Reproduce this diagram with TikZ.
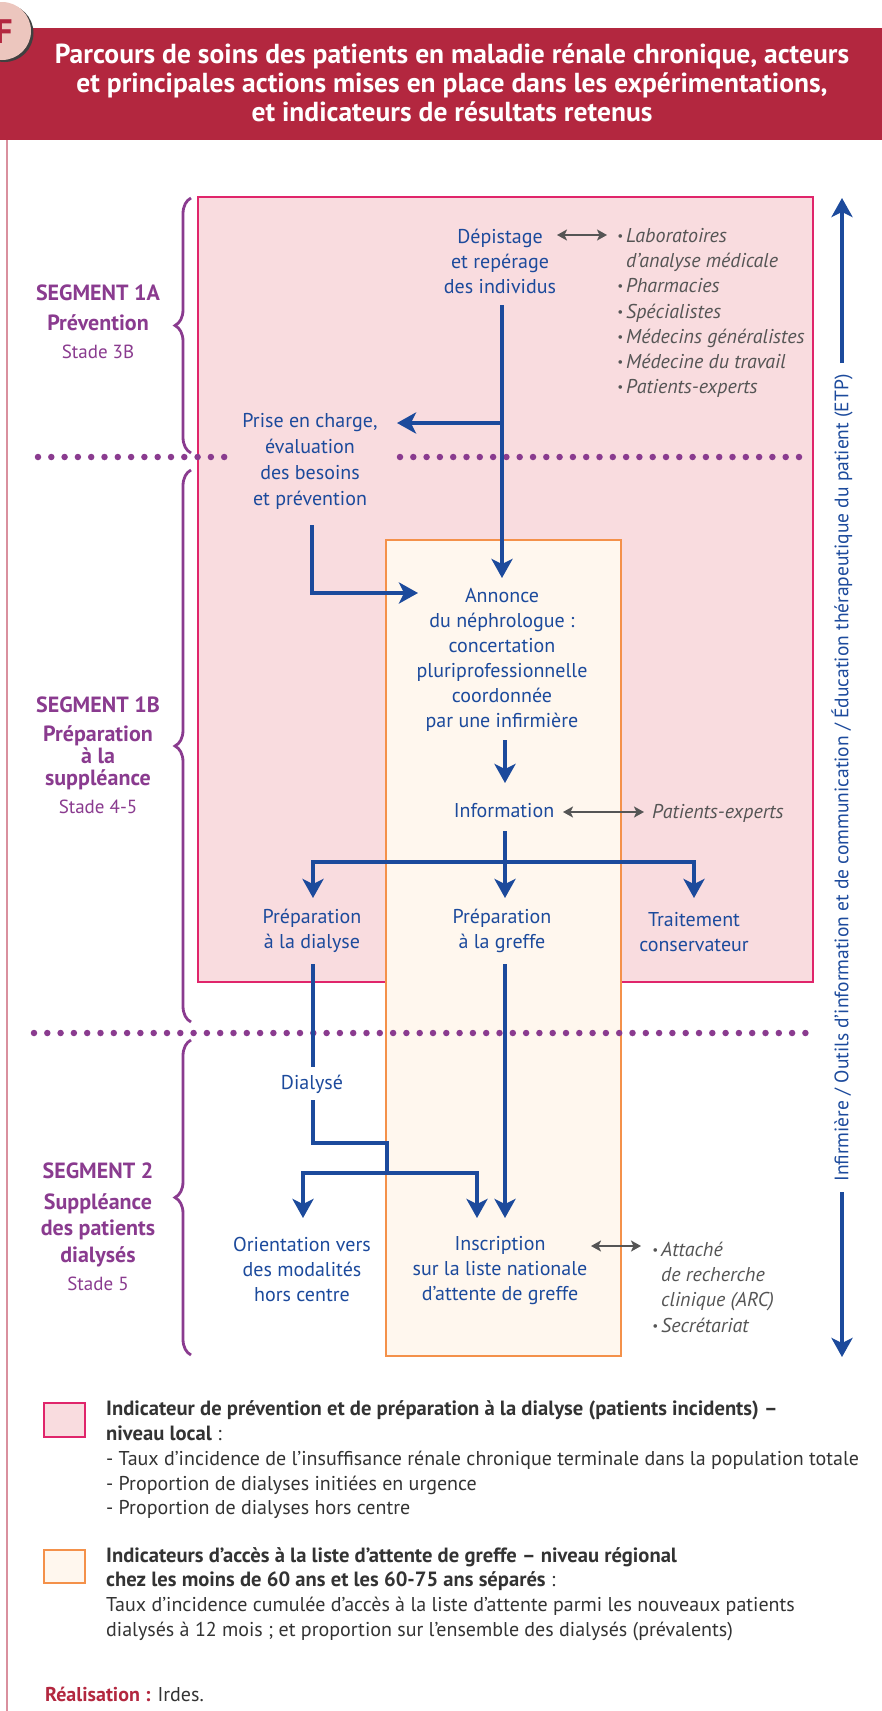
\documentclass[tikz,border=0pt]{standalone}
\usepackage{fontspec}
\setmainfont{PT Sans}
\usetikzlibrary{arrows.meta,decorations.pathreplacing,calc}
\definecolor{titlered}{HTML}{B3273F}
\definecolor{pinkfill}{HTML}{F9DCDF}
\definecolor{pinkline}{HTML}{E0256B}
\definecolor{orfill}{HTML}{FFF7EE}
\definecolor{orline}{HTML}{F4914A}
\definecolor{fblue}{HTML}{1C4A9C}
\definecolor{purp}{HTML}{8A3B8F}
\definecolor{grayt}{HTML}{555555}
\definecolor{leftline}{HTML}{D9909E}
\definecolor{circfill}{HTML}{ECC6BE}
\definecolor{legtext}{HTML}{333333}
\newcommand\bul{\makebox[9pt][l]{\fontsize{13}{13}\selectfont\raisebox{2pt}{•}}}
\newcommand\legb[1]{{\fontsize{20.6}{24.8}\selectfont\bfseries #1}}
\tikzset{
 flow/.style={draw=fblue, line width=4pt, -{Stealth[length=19pt,width=21pt,inset=5pt]}},
 plain/.style={draw=fblue, line width=4pt},
 dual/.style={draw=grayt, line width=2.6pt, {Stealth[length=10pt,width=11pt,inset=2.5pt]}-{Stealth[length=10pt,width=11pt,inset=2.5pt]}},
 dotline/.style={draw=purp, line width=6.5pt, line cap=round, dash pattern=on 0pt off 13.3pt},
 bracestyle/.style={draw=purp, line width=2.8pt, decorate, decoration={brace, amplitude=16pt}},
 txt/.style={text=fblue, align=center, font=\fontsize{20}{25}\selectfont, inner sep=0pt},
 ital/.style={text=grayt, align=left, font=\fontsize{20}{25.3}\selectfont\itshape, inner sep=0pt},
 seg/.style={text=purp, align=center, inner sep=0pt},
 leg/.style={text=legtext, align=left, inner sep=0pt, font=\fontsize{20}{24.8}\selectfont},
}
\begin{document}
\begin{tikzpicture}[x=1pt,y=-1pt]
\useasboundingbox (0,0) rectangle (882,1711);
\fill[white] (0,0) rectangle (882,1711);
% left frame line
\draw[leftline, line width=1.2pt] (7,40) -- (7,1711);
% title bar
\fill[titlered] (0,28) rectangle (882,140);
\node[text=white, font=\fontsize{27.5}{29}\selectfont\bfseries, align=center, inner sep=0pt] (title) at (452,83)
 {Parcours de soins des patients en maladie rénale chronique, acteurs\\
  et principales actions mises en place dans les expérimentations,\\
  et indicateurs de résultats retenus};
% F circle
\fill[black!75] (4.5,33) circle (29);
\fill[circfill] (2,31) circle (29);
\node[text=titlered, font=\fontsize{34}{34}\selectfont\bfseries, inner sep=0pt] (F) at (4,32) {F};

% boxes
\draw[pinkline, fill=pinkfill, line width=2.2pt] (198,197) rectangle (813,982);
\draw[orline, fill=orfill, line width=2.2pt] (386,540) rectangle (621,1356);

% dotted separators
\draw[dotline] (38,457) -- (228,457);
\draw[dotline] (400,457) -- (808,457);
\draw[dotline] (34,1033) -- (813,1033);

% braces
\draw[bracestyle] (191,453) -- (191,198);
\draw[bracestyle] (191,1022) -- (191,470);
\draw[bracestyle] (191,1355) -- (191,1040);

% segment labels
\node[seg, font=\fontsize{22}{30}\selectfont\bfseries] (s1a) at (98,322) {SEGMENT 1A\\ Prévention\\[-2pt]{\fontsize{19}{28}\selectfont\mdseries Stade 3B}};
\node[seg, font=\fontsize{22}{22}\selectfont\bfseries] (s1b) at (98,755) {SEGMENT 1B\\[7pt] Préparation\\ à la\\ suppléance\\[6pt]{\fontsize{19}{22}\selectfont\mdseries Stade 4-5}};
\node[seg, font=\fontsize{22}{26.5}\selectfont\bfseries] (s2) at (98,1227) {SEGMENT 2\\[4pt] Suppléance\\ des patients\\ dialysés\\[2pt]{\fontsize{19}{26}\selectfont\mdseries Stade 5}};

% main nodes
\node[txt] (dep) at (500,261) {Dépistage\\ et repérage\\ des individus};
\node[txt, font=\fontsize{20}{26}\selectfont] (prise) at (310,461) {Prise en charge,\\ évaluation\\ des besoins\\ et prévention};
\node[txt] (ann) at (502,660) {Annonce\\ du néphrologue :\\ concertation\\ pluriprofessionnelle\\ coordonnée\\ par une infirmière};
\node[txt] (info) at (504,811) {Information};
\node[txt] (pdia) at (312,931) {Préparation\\ à la dialyse};
\node[txt] (pgre) at (502,931) {Préparation\\ à la greffe};
\node[txt] (trait) at (694,932) {Traitement\\ conservateur};
\node[txt] (dialyse) at (312,1084) {Dialysé};
\node[txt] (orient) at (302,1269) {Orientation vers\\ des modalités\\ hors centre};
\node[txt] (inscr) at (500,1271) {Inscription\\ sur la liste nationale\\ d’attente de greffe};

% actor lists
\node[ital, anchor=west] (actors) at (617,313) {\bul Laboratoires\\ \hphantom{\bul}d’analyse médicale\\ \bul Pharmacies\\ \bul Spécialistes\\ \bul Médecins généralistes\\ \bul Médecine du travail\\ \bul Patients-experts};
\node[ital, anchor=west] (pe) at (652,813) {Patients-experts};
\node[ital, anchor=west] (arc) at (652,1287) {\bul Attaché\\ \hphantom{\bul}de recherche\\ \hphantom{\bul}clinique (ARC)\\ \bul Secrétariat};

% connector coordinates
\coordinate (d1) at (502,305);
\coordinate (a1) at (502,578);
\coordinate (j1) at (502,423);
\coordinate (p1) at (397,423);
\coordinate (q1) at (312,525);
\coordinate (q2) at (418,593);
\coordinate (n1) at (505,740);
\coordinate (n2) at (505,783);
\coordinate (i1) at (505,831);
\coordinate (i2) at (505,898);
\coordinate (h1) at (505,862);
\coordinate (l1) at (313,898);
\coordinate (r1) at (694,898);
\coordinate (x1) at (313,964);
\coordinate (x2) at (313,1067);
\coordinate (x3) at (313,1100);
\coordinate (x4) at (387,1143);
\coordinate (x5) at (387,1173);
\coordinate (o1) at (303,1218);
\coordinate (o2) at (477,1218);
\coordinate (g1) at (505,964);
\coordinate (g2) at (505,1218);

% blue connectors
\draw[flow] (d1) -- (a1);
\draw[flow] (j1) -- (p1);
\draw[flow] (q1) |- (q2);
\draw[flow] (n1) -- (n2);
\draw[flow] (i1) -- (i2);
\draw[flow] (h1) -| (l1);
\draw[flow] (h1) -| (r1);
\draw[plain] (x1) -- (x2);
\draw[plain] (x3) |- (x4) -- (x5);
\draw[flow] (x5) -| (o1);
\draw[flow] (x5) -| (o2);
\draw[flow] (g1) -- (g2);

% gray double arrows
\coordinate (ga1) at (557,235); \coordinate (ga2) at (607,235);
\coordinate (gb1) at (563,812); \coordinate (gb2) at (644,812);
\coordinate (gc1) at (591,1246); \coordinate (gc2) at (641,1246);
\draw[dual] (ga1) -- (ga2);
\draw[dual] (gb1) -- (gb2);
\draw[dual] (gc1) -- (gc2);

% ETP side arrow
\node[txt, rotate=90, font=\fontsize{19.5}{20}\selectfont] (etp) at (842,778) {Infirmière / Outils d’information et de communication / Éducation thérapeutique du patient (ETP)};
\coordinate (e1) at (842,363); \coordinate (e2) at (842,198);
\coordinate (e3) at (842,1192); \coordinate (e4) at (842,1357);
\draw[flow, line width=3.4pt] (e1) -- (e2);
\draw[flow, line width=3.4pt] (e3) -- (e4);

% legend
\draw[pinkline, fill=pinkfill, line width=2.4pt] (44,1403) rectangle (85,1437);
\draw[orline, fill=orfill, line width=2.4pt] (44,1550) rectangle (85,1583);
\node[leg, anchor=west] (leg1) at (106,1460) {\legb{Indicateur de prévention et de préparation à la dialyse (patients incidents) –}\\ \legb{niveau local} :\\ - Taux d’incidence de l’insuffisance rénale chronique terminale dans la population totale\\ - Proportion de dialyses initiées en urgence\\ - Proportion de dialyses hors centre};
\node[leg, anchor=west] (leg2) at (106,1594) {\legb{Indicateurs d’accès à la liste d’attente de greffe – niveau régional}\\ \legb{chez les moins de 60 ans et les 60-75 ans séparés} :\\ Taux d’incidence cumulée d’accès à la liste d’attente parmi les nouveaux patients\\ dialysés à 12 mois ; et proportion sur l’ensemble des dialysés (prévalents)};
\node[leg, anchor=west] (real) at (45,1694) {{\color{titlered}\textbf{Réalisation :}} Irdes.};
\end{tikzpicture}
\end{document}
